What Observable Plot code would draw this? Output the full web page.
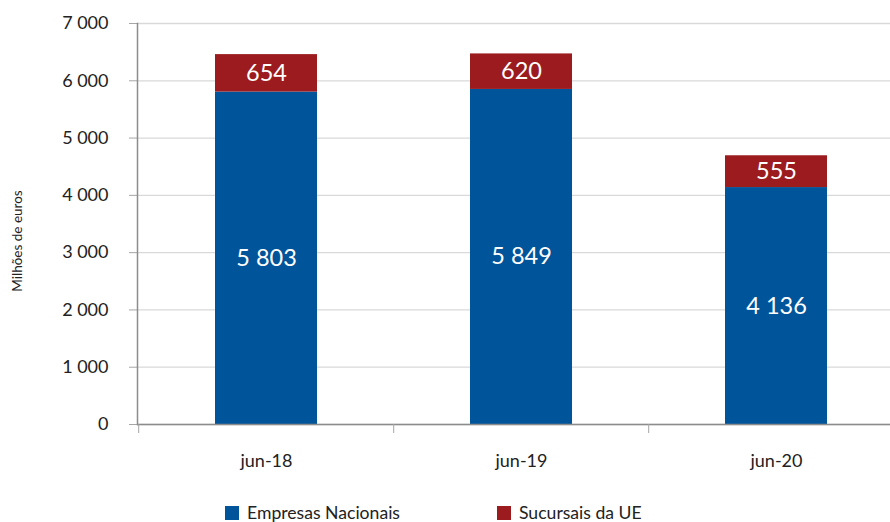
<!DOCTYPE html>
<html>
<head>
<meta charset="utf-8">
<script src="https://cdn.jsdelivr.net/npm/d3@7"></script>
<script src="https://cdn.jsdelivr.net/npm/@observablehq/plot@0.6"></script>
<style>
  html, body { margin: 0; padding: 0; background: #fff; overflow: hidden; }
  #chart { width: 890px; }
  #legend { position: relative; height: 22px; font-family: Lato, sans-serif; font-size: 17.6px; color: #222; }
  .item { position: absolute; top: 4px; display: flex; align-items: center; white-space: nowrap; line-height: 17px; }
  .sw { width: 14px; height: 14px; margin-right: 8px; display: inline-block; }
</style>
</head>
<body>
<div id="chart"></div>
<div id="legend"></div>
<script>
const categories = ["jun-18", "jun-19", "jun-20"];
const empresasNacionais = [5803, 5849, 4136];
const sucursaisUE = [654, 620, 555];
const seriesNames = ["Empresas Nacionais", "Sucursais da UE"];
const seriesColors = ["#00549a", "#9b1b1e"];
const yTicks = [0, 1000, 2000, 3000, 4000, 5000, 6000, 7000];

const locale = d3.formatLocale({decimal: ",", thousands: " ", grouping: [3], currency: ["", " €"]});
const fmt = locale.format(",d");

const data = categories.flatMap((c, i) => [
  {date: c, series: seriesNames[0], value: empresasNacionais[i]},
  {date: c, series: seriesNames[1], value: sucursaisUE[i]}
]);

const plot = Plot.plot({
  width: 890,
  height: 500,
  marginLeft: 137,
  marginRight: -14,
  marginTop: 23,
  marginBottom: 76,
  style: {fontFamily: "Lato, sans-serif", color: "#222", background: "#fff"},
  x: {domain: categories, paddingInner: 0.6, paddingOuter: 0.3},
  y: {domain: [0, 7000]},
  color: {domain: seriesNames, range: seriesColors},
  marks: [
    Plot.gridY(yTicks, {stroke: "#d9d9d9", strokeOpacity: 1, strokeWidth: 1.3}),
    Plot.barY(data, {x: "date", y: "value", fill: "series", z: "series"}),
    Plot.textY(data, Plot.stackY({x: "date", y: "value", z: "series", text: d => fmt(d.value), fill: "white", fontSize: 23.5})),
    Plot.ruleY([0], {stroke: "#8c8c8c", strokeWidth: 1.5}),
    Plot.axisY({ticks: yTicks, tickSize: 8, tickPadding: 21, tickFormat: fmt, stroke: "#a6a6a6", fill: "#222", fontSize: 18, label: null}),
    Plot.axisX({tickSize: 9, tickFormat: () => "", dx: -127.8, stroke: "#a6a6a6", label: null}),
    Plot.axisX({tickSize: 0, tickPadding: 30, fontSize: 18, fill: "#222", label: null}),
    Plot.frame({anchor: "left", stroke: "#8c8c8c", strokeWidth: 1.5}),
    Plot.text(["Milhões de euros"], {frameAnchor: "left", textAnchor: "middle", dx: -120, dy: 17, rotate: -90, fontSize: 13.5, fill: "#222"})
  ]
});
document.getElementById("chart").appendChild(plot);

const legend = document.getElementById("legend");
const lefts = [225, 497];
seriesNames.forEach((name, i) => {
  const it = document.createElement("div");
  it.className = "item";
  it.style.left = lefts[i] + "px";
  it.innerHTML = `<span class="sw" style="background:${seriesColors[i]}"></span><span>${name}</span>`;
  legend.appendChild(it);
});
</script>
</body>
</html>
